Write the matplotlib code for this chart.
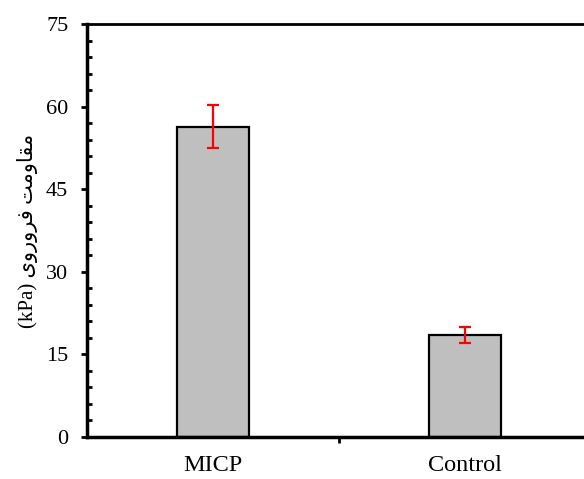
import matplotlib
matplotlib.use("Agg")
import matplotlib.pyplot as plt
from matplotlib.ticker import MultipleLocator, FixedLocator, NullFormatter

categories = ["MICP", "Control"]
values = [56.3, 18.6]
errors = [3.9, 1.45]
yticks = [0, 15, 30, 45, 60, 75]

# Persian label shaped manually (visual order, presentation forms)
word1 = "\uFE96\uFEE3\uFEED\uFE8E\uFED8\uFEE3"  # مقاومت
word2 = "\uFEEF\uFEED\uFEAD\uFEED\uFEAE\uFED3"  # فروروی
ylabel = "(kPa) " + word2 + " " + word1

W, H = 584, 479
fig = plt.figure(figsize=(W / 100, H / 100), dpi=100)
left, right, top, bottom = 87, 591, 24, 437
ax = fig.add_axes([left / W, 1 - bottom / H, (right - left) / W, (bottom - top) / H])

x = list(range(len(categories)))
ax.bar(x, values, width=0.286, color="#bfbfbf", edgecolor="black", linewidth=1.6, zorder=2)
ax.errorbar(x, values, yerr=errors, fmt="none", ecolor="red", elinewidth=1.6,
            capsize=4.5, capthick=1.6, zorder=3)

ax.set_xlim(-0.5, 1.5)
ax.set_ylim(0, 75)

ax.yaxis.set_major_locator(FixedLocator(yticks))
ax.yaxis.set_minor_locator(MultipleLocator(3))
ax.set_yticklabels([str(t) for t in yticks], family="Liberation Serif", fontsize=16)
ax.tick_params(axis="y", which="major", direction="out", length=4.5, width=2, pad=9)
ax.tick_params(axis="y", which="minor", direction="in", length=3.5, width=2)

ax.xaxis.set_major_locator(FixedLocator([0.5]))
ax.xaxis.set_major_formatter(NullFormatter())
ax.xaxis.set_minor_locator(FixedLocator(x))
ax.set_xticklabels(categories, minor=True, family="Liberation Serif", fontsize=17.5)
ax.tick_params(axis="x", which="major", direction="out", length=4.5, width=2)
ax.tick_params(axis="x", which="minor", length=0, pad=13)

for s in ["left", "bottom"]:
    ax.spines[s].set_linewidth(2.5)
ax.spines["top"].set_linewidth(2)
ax.spines["right"].set_visible(False)

ax.set_ylabel(ylabel, family=["Liberation Serif", "DejaVu Sans"], fontsize=15, labelpad=6)

fig.savefig("out.png", dpi=100)
